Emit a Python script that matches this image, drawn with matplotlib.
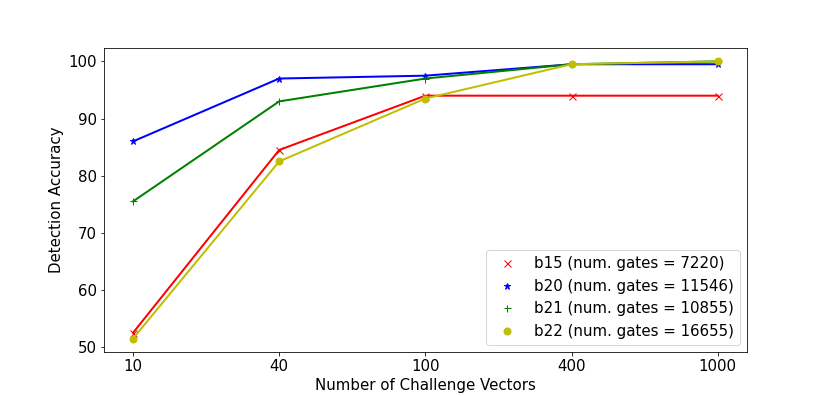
import matplotlib
import matplotlib.pyplot as plt

matplotlib.use("Agg")

# challenge vector counts, plotted at equally spaced positions
num_vectors = ["10", "40", "100", "400", "1000"]

b15_acc = [52.5, 84.5, 94.0, 94.0, 94.0]
b20_acc = [86.0, 97.0, 97.5, 99.5, 99.5]
b21_acc = [75.5, 93.0, 97.0, 99.5, 100.0]
b22_acc = [51.5, 82.5, 93.5, 99.5, 100.0]

labels = [
    "b15 (num. gates = 7220)",
    "b20 (num. gates = 11546)",
    "b21 (num. gates = 10855)",
    "b22 (num. gates = 16655)",
]

plt.rcParams["font.size"] = 15

fig = plt.figure(figsize=(830 / 72, 396 / 72), dpi=72)
pos = list(range(len(num_vectors)))

series = [(b15_acc, "r", "x"), (b20_acc, "b", "*"), (b21_acc, "g", "+"), (b22_acc, "y", "o")]
for (acc, col, mk), lab in zip(series, labels):
    plt.plot(pos, acc, col + mk, label=lab, markersize=7)
    plt.plot(pos, acc, col + "-", linewidth=2)

plt.xticks(pos, num_vectors)
plt.xlabel("Number of Challenge Vectors")
plt.ylabel("Detection Accuracy")
plt.legend(loc="lower right", numpoints=1)
plt.savefig("out.png", dpi=72)
